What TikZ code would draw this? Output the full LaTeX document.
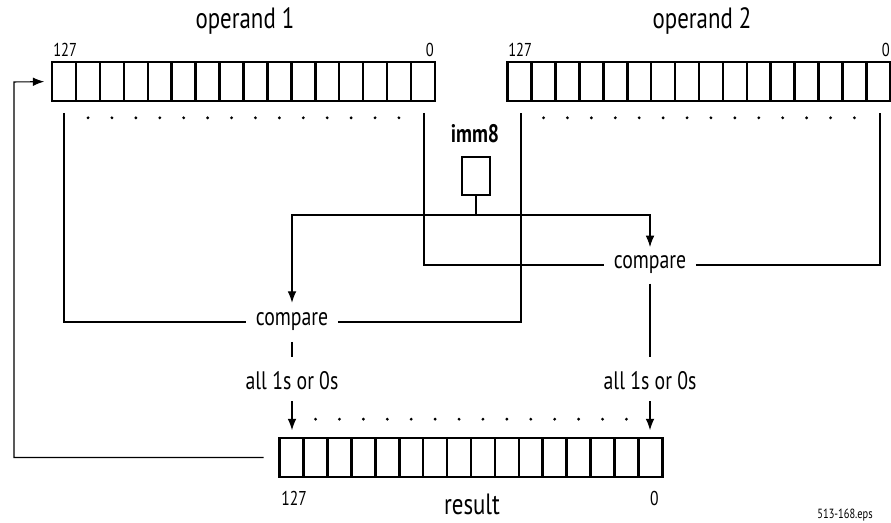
\documentclass[tikz,border=0pt]{standalone}
\usepackage{fontspec}
\setmainfont{PT Sans}[FakeStretch=0.78]
\usetikzlibrary{arrows.meta, calc}

\begin{document}
\begin{tikzpicture}[
    x=0.75pt, y=-0.75pt,
    reg/.style={draw, rectangle, line width=1.9pt, outer sep=0pt, inner sep=0pt, minimum width=287pt, minimum height=29pt},
    title/.style={font=\fontsize{22}{24}\selectfont, inner sep=0pt},
    bit/.style={font=\fontsize{14}{16}\selectfont, inner sep=0pt},
    cmp/.style={font=\fontsize{19}{21}\selectfont, inner xsep=7pt, inner ysep=3pt},
    wire/.style={line width=0.8pt},
    arrow/.style={-{Latex[length=8.5pt, width=6.5pt]}, line width=0.8pt}
]
\useasboundingbox (0,0) rectangle (891,523);

% registers
\node[reg] (op1) at (243.5,81.5) {};
\node[reg] (op2) at (699,81.5) {};
\node[reg] (res) at (471,457.5) {};
\foreach \r in {op1,op2,res}
  \foreach \k in {1,...,15}
    \draw[line width=1.9pt] ($(\r.north west)!\k/16!(\r.north east)$) -- ($(\r.south west)!\k/16!(\r.south east)$);

% dots between the outer bits
\foreach \k in {2,...,15} {
  \fill ($(op1.south west)!{(\k-0.5)/16}!(op1.south east)$) ++(0,17) circle (1.2pt);
  \fill ($(op2.south west)!{(\k-0.5)/16}!(op2.south east)$) ++(0,17) circle (1.2pt);
  \fill ($(res.north west)!{(\k-0.5)/16}!(res.north east)$) ++(0,-19) circle (1.2pt);
}

% labels
\node[title, anchor=base] (op1lbl) at (245,29) {operand 1};
\node[title, anchor=base] (op2lbl) at (702,29) {operand 2};
\node[title, anchor=base] (reslbl) at (472,514) {result};
\node[bit, anchor=base west] (op1hi) at (53,57) {127};
\node[bit, anchor=base east] (op1lo) at (434,57) {0};
\node[bit, anchor=base west] (op2hi) at (508,57) {127};
\node[bit, anchor=base east] (op2lo) at (890,57) {0};
\node[bit, anchor=base west, font=\fontsize{15}{17}\selectfont] (reshi) at (281,505) {127};
\node[bit, anchor=base east, font=\fontsize{15}{17}\selectfont] (reslo) at (659,505) {0};
\node[anchor=base east, inner sep=0pt, font=\fontsize{10}{12}\selectfont] (file) at (873,518) {513-168.eps};

% imm8
\node[anchor=base, inner sep=0pt, font=\fontsize{19}{21}\selectfont\bfseries] (immlbl) at (475,143) {imm8};
\node[draw, rectangle, line width=1.9pt, outer sep=0pt, minimum width=21pt, minimum height=28.5pt] (imm) at (476,176) {};
\coordinate (split) at (476,215);

% compare units
\node[cmp] (cmpA) at (292,322) {compare};
\node[cmp] (cmpB) at (650,265) {compare};
\node[cmp] (allA) at (292,381) {all 1s or 0s};
\node[cmp] (allB) at (650,381) {all 1s or 0s};

% taps under the outer bits
\coordinate (op1hiT) at (64,113);
\coordinate (op1loT) at (424,113);
\coordinate (op2hiT) at (521,113);
\coordinate (op2loT) at (880,113);
\coordinate (loop) at (14,82);

\draw[wire] (op1hiT) |- (cmpA.west);
\draw[wire] (cmpA.east) -| (op2hiT);
\draw[wire] (op1loT) |- (cmpB.west);
\draw[wire] (cmpB.east) -| (op2loT);

\draw[wire] (imm.south) -- (split);
\draw[arrow, shorten >=4.5pt] (split) -| (cmpA.north);
\draw[arrow, shorten >=3.5pt] (split) -| (cmpB.north);

\draw[wire, shorten <=5pt, shorten >=8pt] (cmpA.south) -- (allA.north);
\draw[wire, shorten <=4pt, shorten >=8pt] (cmpB.south) -- (allB.north);
\draw[arrow, shorten <=5pt, shorten >=6pt] (allA.south) -- (allA.south |- res.north);
\draw[arrow, shorten <=5pt, shorten >=6pt] (allB.south) -- (allB.south |- res.north);

% result fed back to operand 1
\draw[arrow, shorten <=12pt, shorten >=6pt] (res.west) -| (loop) -- (op1.west);

\end{tikzpicture}
\end{document}
